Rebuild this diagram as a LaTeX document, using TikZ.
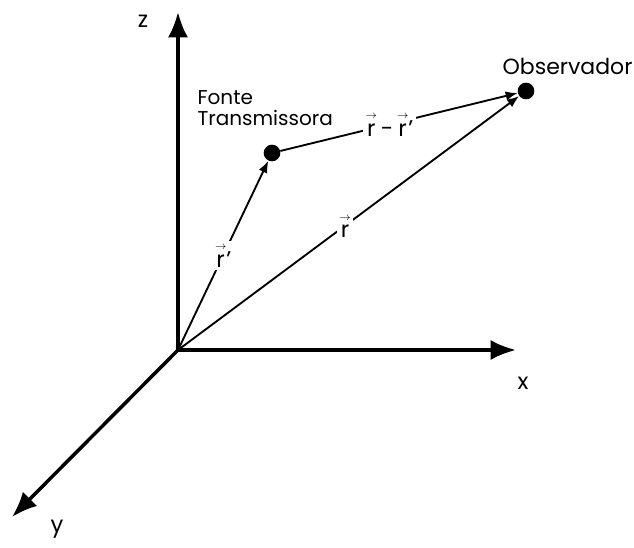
\documentclass[tikz,border=0pt]{standalone}
\usepackage{amsmath}
\usepackage{fontspec}
\setmainfont{Poppins}
\usetikzlibrary{arrows.meta}
\newcommand{\vr}{$\overset{\scriptscriptstyle\rightarrow}{\mbox{r}}$}

\begin{document}
\begin{tikzpicture}[x=0.75pt,y=-0.75pt,
  axis/.style={line width=2.6pt,-{Latex[length=19pt,width=15pt]}},
  vec/.style={line width=1.4pt,-{Latex[length=9pt,width=7pt]}},
  dot/.style={circle,fill,inner sep=0pt,minimum size=12.5pt},
  lbl/.style={font=\fontsize{15}{17}\selectfont,inner sep=1pt},
  cut/.style={font=\fontsize{17}{19}\selectfont,fill=white,inner sep=2pt}]
\useasboundingbox (0,0) rectangle (634,548);
% eixos
\coordinate (O) at (178,350);
\coordinate (zend) at (178,12);
\coordinate (xend) at (516,350);
\coordinate (yend) at (12,517);
\draw[axis] (O) -- (zend);
\draw[axis] (O) -- (xend);
\draw[axis] (O) -- (yend);
\node[lbl,font=\fontsize{17}{19}\selectfont] (zl) at (143,21) {z};
\node[lbl,font=\fontsize{17}{19}\selectfont] (xl) at (523,383) {x};
\node[lbl,font=\fontsize{17}{19}\selectfont] (yl) at (57,529) {y};
% fonte e observador
\node[dot] (fonte) at (272,153) {};
\node[dot] (obs) at (526,91) {};
\node[lbl,align=left,anchor=west] (ftxt) at (196,108) {Fonte\\[-1pt]Transmissora};
\node[lbl,anchor=west,font=\fontsize{16.5}{19}\selectfont] (otxt) at (501,66) {Observador};
% vetores
\draw[vec] (O) -- node[cut] (rp) {\vr’} (fonte);
\draw[vec] (O) -- node[cut,pos=0.49] (r) {\vr} (obs);
\draw[vec] (fonte) -- node[cut,pos=0.46] (rr) {\vr\,-\,\vr’} (obs);
\end{tikzpicture}
\end{document}
